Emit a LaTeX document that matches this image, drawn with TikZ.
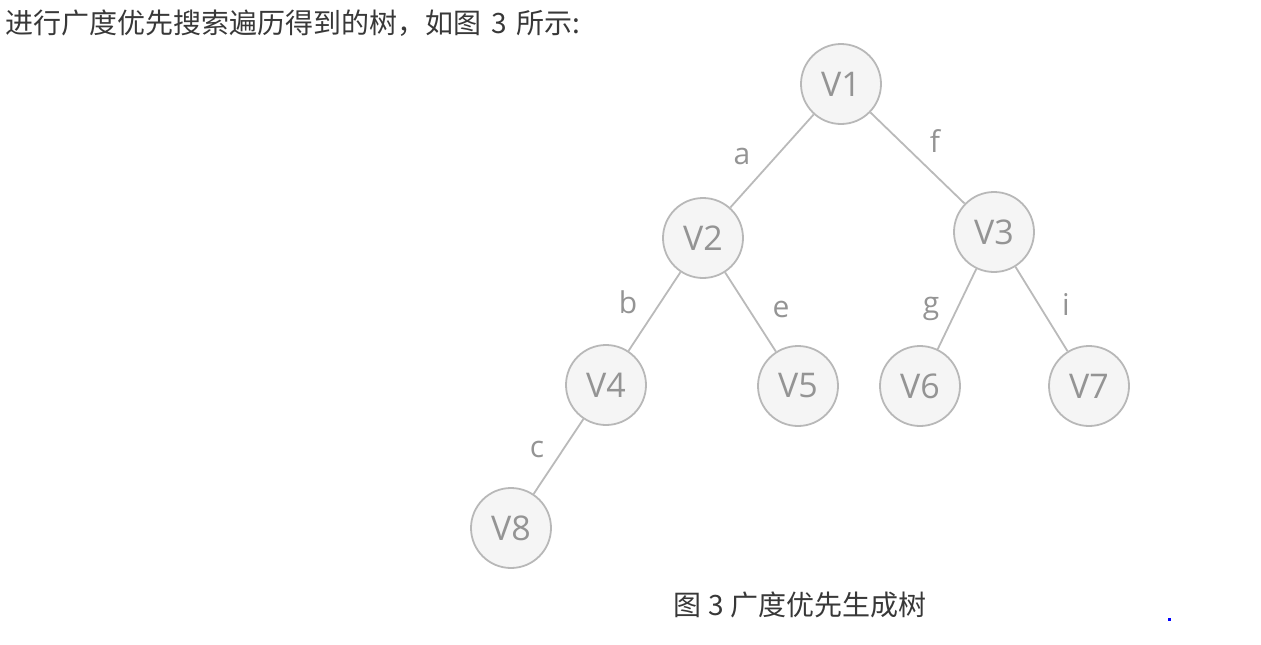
\documentclass[tikz,border=0pt]{standalone}
\usepackage{fontspec}
\setmainfont{Open Sans}
\newfontfamily\cjk{Noto Sans CJK SC}
\begin{document}
\begin{tikzpicture}[x=1pt,y=-1pt,
  vert/.style={circle,draw=black!28,fill=black!4,line width=1.8pt,minimum size=80pt,inner sep=0pt,
    text=black!42,font=\fontsize{34}{34}\selectfont},
  edge/.style={draw=black!27,line width=1.8pt},
  elab/.style={text=black!42,font=\fontsize{30}{30}\selectfont,inner sep=0pt},
  cjktext/.style={text=black!78,font=\cjk\fontsize{28}{28}\selectfont,inner sep=0pt}]
\useasboundingbox (0,0) rectangle (1261,645);
\node[vert] (v1) at (841,84) {V1};
\node[vert] (v2) at (703,238) {V2};
\node[vert] (v3) at (994,232) {V3};
\node[vert] (v4) at (606,385) {V4};
\node[vert] (v5) at (798,386) {V5};
\node[vert] (v6) at (920,386) {V6};
\node[vert] (v7) at (1089,386) {V7};
\node[vert] (v8) at (511,528) {V8};
\draw[edge] (v1) -- (v2);
\draw[edge] (v1) -- (v3);
\draw[edge] (v2) -- (v4);
\draw[edge] (v2) -- (v5);
\draw[edge] (v3) -- (v6);
\draw[edge] (v3) -- (v7);
\draw[edge] (v4) -- (v8);
\node[elab] (la) at (742,156) {a};
\node[elab] (lf) at (935,141) {f};
\node[elab] (lb) at (628,302) {b};
\node[elab] (le) at (781,309) {e};
\node[elab] (lg) at (931,309) {g};
\node[elab] (li) at (1066,304) {i};
\node[elab] (lc) at (537,449) {c};
\node[cjktext,anchor=west] (title) at (5,23) {进行广度优先搜索遍历得到的树，如图\hspace{0.35em}3\hspace{0.35em}所示:};
\node[cjktext] (cap) at (800,605) {图 3 广度优先生成树};
\fill[blue] (1167.5,617.5) rectangle (1170.5,620.5);
\end{tikzpicture}
\end{document}
